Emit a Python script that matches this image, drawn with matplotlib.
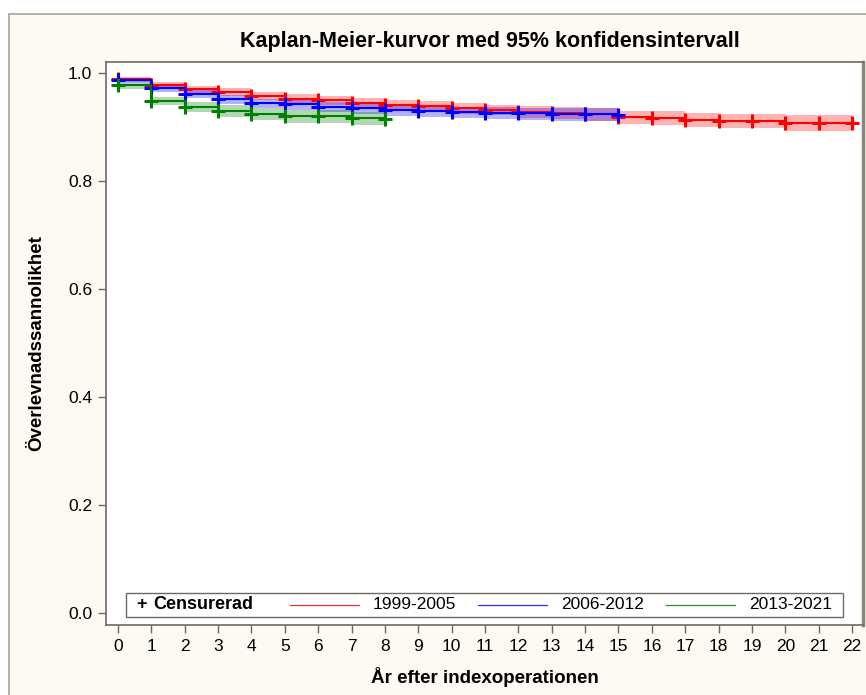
import matplotlib
matplotlib.use("Agg")
import matplotlib.pyplot as plt
from matplotlib.patches import Rectangle
from matplotlib.lines import Line2D
import numpy as np

plt.rcParams['font.family'] = ['Liberation Sans', 'DejaVu Sans']

# survival estimates per year
years_a = list(range(0, 23))
surv_a = [0.988, 0.978, 0.970, 0.965, 0.957, 0.952, 0.949, 0.945, 0.941, 0.938,
          0.934, 0.931, 0.928, 0.926, 0.923, 0.919, 0.917, 0.913, 0.911, 0.911,
          0.908, 0.908, 0.908]
low_a = [0.983, 0.971, 0.963, 0.957, 0.949, 0.944, 0.940, 0.936, 0.932, 0.928,
         0.924, 0.921, 0.917, 0.915, 0.911, 0.906, 0.904, 0.899, 0.897, 0.897,
         0.892, 0.892, 0.892]
upp_a = [0.992, 0.983, 0.976, 0.972, 0.965, 0.960, 0.957, 0.954, 0.950, 0.947,
         0.944, 0.941, 0.938, 0.937, 0.934, 0.930, 0.929, 0.926, 0.924, 0.924,
         0.922, 0.922, 0.922]

years_b = list(range(0, 16))
surv_b = [0.987, 0.971, 0.961, 0.951, 0.944, 0.942, 0.937, 0.934, 0.931, 0.929,
          0.927, 0.926, 0.925, 0.923, 0.923, 0.922]
low_b = [0.982, 0.964, 0.953, 0.942, 0.935, 0.932, 0.927, 0.923, 0.920, 0.918,
         0.916, 0.914, 0.913, 0.911, 0.911, 0.910]
upp_b = [0.991, 0.977, 0.968, 0.959, 0.952, 0.950, 0.946, 0.943, 0.941, 0.939,
         0.937, 0.936, 0.935, 0.934, 0.934, 0.933]

years_c = list(range(0, 9))
surv_c = [0.977, 0.948, 0.937, 0.930, 0.924, 0.920, 0.920, 0.916, 0.915]
low_c = [0.970, 0.940, 0.927, 0.919, 0.912, 0.907, 0.907, 0.903, 0.902]
upp_c = [0.982, 0.956, 0.946, 0.940, 0.935, 0.932, 0.932, 0.928, 0.927]

labels = ["1999-2005", "2006-2012", "2013-2021"]
colors = ["#ff0000", "#0000ff", "#008000"]
legend_colors = ["#e8303a", "#3030e0", "#2e8b2e"]

x_ticks = list(range(0, 23))
y_ticks = [0.0, 0.2, 0.4, 0.6, 0.8, 1.0]

fig = plt.figure(figsize=(8.66, 6.95), dpi=100, facecolor="white")

# beige panel behind everything
fig.patches.append(Rectangle((9 / 866, -0.01), 1, 1.01 - 14 / 695, transform=fig.transFigure,
                             facecolor="#fdfaf3", edgecolor="#a8a398", lw=1.2, zorder=-1))

ax = fig.add_axes([106 / 866, 1 - 625 / 695, 757 / 866, 563 / 695])
ax.set_facecolor("white")

series = [(years_a, surv_a, low_a, upp_a),
          (years_b, surv_b, low_b, upp_b),
          (years_c, surv_c, low_c, upp_c)]

for (t, s, lo, up), col in zip(series, colors):
    ax.fill_between(t, lo, up, step="post", color=col, alpha=0.3, lw=0)
for (t, s, lo, up), col in zip(series, colors):
    ax.step(t, s, where="post", color=col, lw=1.5)
    ax.plot(t, s, ls="none", marker="+", ms=10, mew=2.2, color=col)

ax.set_xlim(-0.36, 22.33)
ax.set_ylim(-0.022, 1.02)
ax.set_xticks(x_ticks)
ax.set_yticks(y_ticks)
ax.set_yticklabels(["%.1f" % v for v in y_ticks])
ax.tick_params(axis="both", direction="out", length=6, width=1, color="#6f6a5f",
               labelsize=12.5, pad=4)
for sp in ax.spines.values():
    sp.set_color("#6f6a5f")
    sp.set_linewidth(1.2)
ax.spines["right"].set_linewidth(2.5)
ax.spines["right"].set_color("#8a857a")

ax.set_ylabel("Överlevnadssannolikhet", fontsize=13.5, fontweight="bold")
ax.yaxis.set_label_coords((45 - 106) / 757, 0.5)
ax.set_xlabel("År efter indexoperationen", fontsize=13.5, fontweight="bold")
ax.xaxis.set_label_coords(0.5, (625 - 667) / 563)

fig.text(490 / 866, 1 - 42 / 695, "Kaplan-Meier-kurvor med 95% konfidensintervall",
         ha="center", va="center", fontsize=15.5, fontweight="bold")

# legend box drawn by hand, SAS style
ax.add_patch(Rectangle((0.026, 0.015), 0.948, 0.042, transform=ax.transAxes,
                       facecolor="white", edgecolor="#6f6a5f", lw=1, zorder=5))
ly = 0.036
ax.text(0.040, ly, "+", transform=ax.transAxes, fontsize=13, fontweight="bold",
        va="center", ha="left", zorder=6)
ax.text(0.062, ly, "Censurerad", transform=ax.transAxes, fontsize=13, fontweight="bold",
        va="center", ha="left", zorder=6)
starts = [0.243, 0.492, 0.740]
for x0, col, lab in zip(starts, legend_colors, labels):
    ax.add_line(Line2D([x0, x0 + 0.091], [ly, ly], transform=ax.transAxes,
                       color=col, lw=0.9, zorder=6))
    ax.text(x0 + 0.109, ly, lab, transform=ax.transAxes, fontsize=12.5,
            va="center", ha="left", zorder=6)

plt.savefig("out.png", dpi=100)
